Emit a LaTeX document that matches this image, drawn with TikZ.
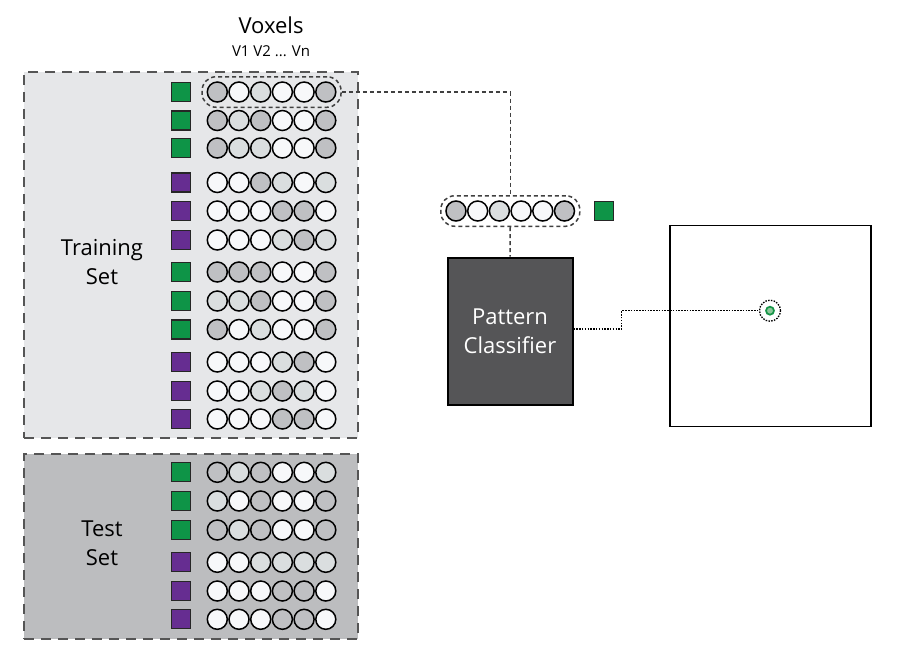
\documentclass[tikz,border=0pt]{standalone}
\usepackage{fontspec}
\setmainfont{Open Sans}
\usetikzlibrary{fit}
\definecolor{trainbg}{HTML}{E6E7E9}
\definecolor{testbg}{HTML}{BCBDBF}
\definecolor{framegray}{HTML}{555555}
\definecolor{vG}{HTML}{BFC0C3}
\definecolor{vL}{HTML}{DADEDF}
\definecolor{vW}{HTML}{F7F8FA}
\definecolor{clsA}{HTML}{0E9447}
\definecolor{clsB}{HTML}{662D91}
\definecolor{clfbg}{HTML}{555557}
\definecolor{hitfill}{HTML}{8CC79A}
\definecolor{hitline}{HTML}{159447}
\tikzset{
  setbox/.style={draw=framegray, line width=1.2pt, dash pattern=on 10pt off 7pt, inner sep=0pt},
  voxel/.style={circle, draw=black, line width=1.5pt, minimum size=20pt, inner sep=0pt},
  labelsq/.style={draw=black!85, line width=1.3pt, minimum size=19pt, inner sep=0pt},
  grp/.style={draw=black!75, line width=1.5pt, dash pattern=on 4pt off 3pt, rounded corners=14pt, inner sep=4.5pt},
  link/.style={draw=black!75, line width=1.5pt, dash pattern=on 4pt off 3pt},
  dotlink/.style={draw=black, line width=1.3pt, dash pattern=on 1.5pt off 1.3pt},
  bigtxt/.style={font=\fontsize{22}{29}\selectfont, align=center, inner sep=0pt},
}
\begin{document}
\begin{tikzpicture}[x=1pt,y=-1pt]
\useasboundingbox (0,0) rectangle (900,657);
% set boxes
\node[setbox, fill=trainbg, minimum width=334pt, minimum height=366pt] (train) at (191,255) {};
\node[setbox, fill=testbg, minimum width=334pt, minimum height=185pt] (test) at (191,546.5) {};
\node[bigtxt] (trainlbl) at (102,262) {Training\\Set};
\node[bigtxt] (testlbl) at (102,543) {Test\\Set};
% header
\node[font=\fontsize{22}{26}\selectfont, inner sep=0pt] (voxhdr) at (271,25) {Voxels};
\node[font=\fontsize{15}{18}\selectfont, inner sep=0pt] (voxsub) at (271,51) {V1 V2 ... Vn};
% rows
\foreach \y/\a/\b/\c/\d/\e/\f/\s [count=\r] in {
  92/G/W/L/W/W/G/A, 120.5/G/L/G/W/W/G/A, 148/G/L/L/W/W/G/A,
  182.5/W/W/G/L/W/L/B, 211/W/W/W/G/G/W/B, 240/W/W/W/L/G/L/B,
  272/G/G/G/W/W/G/A, 301/L/L/G/W/W/G/A, 329.5/G/W/L/W/W/G/A,
  362/W/W/W/L/G/W/B, 391/W/W/L/G/L/W/B, 419/W/W/W/G/G/W/B,
  472.3/G/L/G/W/W/L/A, 501/L/W/G/W/W/G/A, 530/G/L/G/W/W/G/A,
  562.3/W/W/L/L/L/L/B, 591/W/W/W/G/G/W/B, 619.3/W/W/W/G/G/W/B} {
  \node[labelsq, fill=cls\s] (sq\r) at (181,\y) {};
  \node[voxel, fill=v\a] (v\r-1) at (217.3,\y) {};
  \node[voxel, fill=v\b] (v\r-2) at (239.0,\y) {};
  \node[voxel, fill=v\c] (v\r-3) at (260.7,\y) {};
  \node[voxel, fill=v\d] (v\r-4) at (282.4,\y) {};
  \node[voxel, fill=v\e] (v\r-5) at (304.1,\y) {};
  \node[voxel, fill=v\f] (v\r-6) at (325.8,\y) {};
}
\node[grp, fit=(v1-1)(v1-6)] (g1) {};
% middle vector
\foreach \a [count=\k] in {G,W,L,W,W,G} {
  \node[voxel, fill=v\a] (m\k) at (456.0+21.7*\k-21.7,211) {};
}
\node[grp, fit=(m1)(m6)] (g2) {};
\node[labelsq, fill=clsA] (msq) at (603.7,211) {};
% classifier
\node[fill=clfbg, draw=black, line width=2pt, minimum width=125pt, minimum height=147pt,
      text=white, bigtxt] (clf) at (510,331) {Pattern\\Classifier};
% output space
\node[draw=black, line width=1.5pt, minimum width=201pt, minimum height=201pt] (space) at (770.3,326.2) {};
\node[circle, dotlink, minimum size=21pt, inner sep=0pt] (ring) at (770,310.7) {};
\node[circle, fill=hitfill, draw=hitline, line width=1.7pt, minimum size=8pt, inner sep=0pt] (hit) at (ring) {};
% connectors
\draw[link] (g1.east) -| (g2.north);
\draw[link] (g2.south) -- (clf.north);
\coordinate (bend) at (621.7,329);
\draw[dotlink] (clf.east |- bend) -- (bend) |- (ring.west);
\end{tikzpicture}
\end{document}
